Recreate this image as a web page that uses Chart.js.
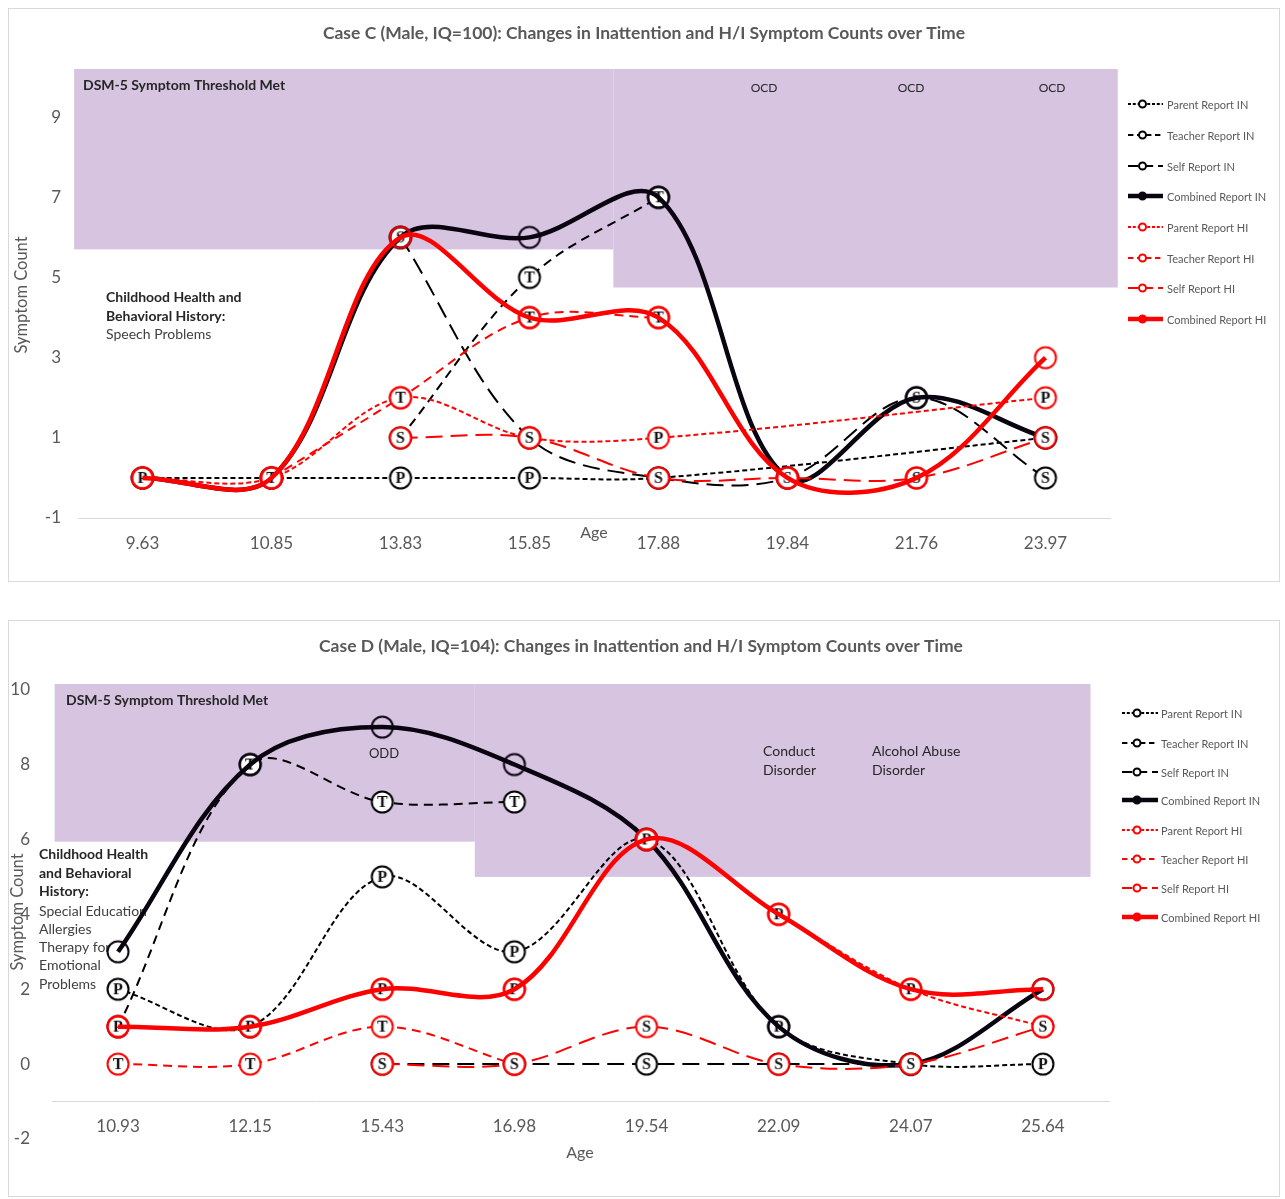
<!DOCTYPE html>
<html>
<head>
<meta charset="utf-8">
<script src="https://cdn.jsdelivr.net/npm/chart.js@4.4.1/dist/chart.umd.min.js"></script>
<style>
  body { margin: 0; background: #fff; }
  .panel { position: absolute; left: 8px; width: 1270px; border: 1px solid #d9d9d9; background: #fff; }
  #panelC { top: 8px; height: 572px; }
  #panelD { top: 620px; height: 575px; }
  canvas { display: block; }
</style>
</head>
<body>
<div class="panel" id="panelC"><canvas id="chartC" width="1270" height="572"></canvas></div>
<div class="panel" id="panelD"><canvas id="chartD" width="1270" height="575"></canvas></div>
<script>
// ---- series names (legend order) ----
const seriesNames = ['Parent Report IN', 'Teacher Report IN', 'Self Report IN', 'Combined Report IN',
                     'Parent Report HI', 'Teacher Report HI', 'Self Report HI', 'Combined Report HI'];
const seriesLetters = ['P', 'T', 'S', '', 'P', 'T', 'S', ''];

// ---- Case C ----
const agesC = ['9.63', '10.85', '13.83', '15.85', '17.88', '19.84', '21.76', '23.97'];
const parentInC   = [0, 0, 0, 0, 0, null, null, 1];
const teacherInC  = [null, null, 1, 5, 7, null, null, null];
const selfInC     = [null, null, 6, 1, 0, 0, 2, 0];
const combinedInC = [0, 0, 6, 6, 7, 0, 2, 1];
const parentHiC   = [0, 0, 2, 1, 1, null, null, 2];
const teacherHiC  = [null, 0, 2, 4, 4, null, null, null];
const selfHiC     = [null, null, 1, 1, 0, 0, 0, 1];
const combinedHiC = [0, 0, 6, 4, 4, 0, 0, 3];
const yTicksC = [-1, 1, 3, 5, 7, 9];

// ---- Case D ----
const agesD = ['10.93', '12.15', '15.43', '16.98', '19.54', '22.09', '24.07', '25.64'];
const parentInD   = [2, 1, 5, 3, 6, 1, 0, 0];
const teacherInD  = [1, 8, 7, 7, null, null, null, null];
const selfInD     = [null, null, 0, 0, 0, 0, 0, null];
const combinedInD = [3, 8, 9, 8, 6, 1, 0, 2];
const parentHiD   = [1, 1, 2, 2, 6, 4, 2, 1];
const teacherHiD  = [0, 0, 1, 0, null, null, null, null];
const selfHiD     = [null, null, 0, 0, 1, 0, 0, 1];
const combinedHiD = [1, 1, 2, 2, 6, 4, 2, 2];
const yTicksD = [-2, 0, 2, 4, 6, 8, 10];

// line looks per series
const seriesStyles = [
  { color: '#000000', width: 2,   dash: [5, 3] },
  { color: '#000000', width: 2,   dash: [9, 6] },
  { color: '#000000', width: 2,   dash: [17, 8] },
  { color: '#0a0410', width: 4.5, dash: [] },
  { color: '#ff0000', width: 2,   dash: [5, 3] },
  { color: '#ff0000', width: 2,   dash: [9, 6] },
  { color: '#ff0000', width: 2,   dash: [17, 8] },
  { color: '#ff0000', width: 4.5, dash: [] }
];

function makeMarker(color, letter) {
  const c = document.createElement('canvas');
  c.width = 26; c.height = 26;
  const g = c.getContext('2d');
  g.beginPath();
  g.arc(13, 13, 10.5, 0, Math.PI * 2);
  if (letter) { g.fillStyle = '#fff'; g.fill(); }
  g.lineWidth = 2;
  g.strokeStyle = color;
  g.stroke();
  if (letter) {
    g.fillStyle = '#111';
    g.font = 'bold 16px "Liberation Serif"';
    g.textAlign = 'center';
    g.textBaseline = 'middle';
    g.fillText(letter, 13, 14);
  }
  return c;
}
const markers = seriesStyles.map((s, i) => makeMarker(s.color, seriesLetters[i]));

// boxes, texts, legend
const decorPlugin = {
  id: 'decor',
  beforeDatasetsDraw(chart, args, opts) {
    const { ctx, chartArea } = chart;
    const x = chart.scales.x, y = chart.scales.y;
    const x0 = x.getPixelForValue(0);
    const step = x.getPixelForValue(1) - x0;
    ctx.save();
    ctx.fillStyle = '#d6c4e1';
    opts.boxes.forEach(b => {
      const left = x0 + b.from * step, right = x0 + b.to * step;
      const top = chartArea.top, bottom = y.getPixelForValue(b.bottom);
      ctx.fillRect(left, top, right - left, bottom - top);
    });
    opts.texts.forEach(t => {
      ctx.font = t.font;
      ctx.fillStyle = t.color;
      ctx.textAlign = t.align || 'left';
      ctx.textBaseline = 'middle';
      if (t.rotate) {
        ctx.save();
        ctx.translate(t.x, t.y);
        ctx.rotate(-Math.PI / 2);
        ctx.fillText(t.text, 0, 0);
        ctx.restore();
      } else {
        ctx.fillText(t.text, t.x, t.y);
      }
    });
    ctx.restore();
  },
  afterDraw(chart, args, opts) {
    const ctx = chart.ctx;
    const lg = opts.legend;
    chart.data.datasets.forEach((ds, i) => {
      const yy = lg.ys[i];
      ctx.save();
      ctx.strokeStyle = ds.borderColor;
      ctx.lineWidth = ds.borderWidth;
      ctx.setLineDash(ds.borderDash.map(v => v * 0.6));
      ctx.beginPath();
      ctx.moveTo(lg.x0, yy);
      ctx.lineTo(lg.x1, yy);
      ctx.stroke();
      ctx.setLineDash([]);
      ctx.beginPath();
      ctx.arc((lg.x0 + lg.x1) / 2 - 3, yy, 3.5, 0, Math.PI * 2);
      ctx.fillStyle = ds.borderWidth > 3 ? ds.borderColor : '#fff';
      ctx.fill();
      ctx.lineWidth = 2;
      ctx.stroke();
      ctx.font = '11px Lato';
      ctx.fillStyle = '#595959';
      ctx.textAlign = 'left';
      ctx.textBaseline = 'middle';
      ctx.fillText(ds.label, lg.tx, yy + 1);
      ctx.restore();
    });
  }
};

const tickFont = { family: 'Lato', size: 17 };
const boldNote = 'bold 14px Lato';
const plainNote = '14px Lato';
const noteColor = '#262626';
const titleFont = 'bold 17.5px Lato';

function makeChart(canvasId, c) {
  const datasets = c.series.map((data, i) => ({
    label: seriesNames[i],
    data: data,
    borderColor: seriesStyles[i].color,
    borderWidth: seriesStyles[i].width,
    borderDash: seriesStyles[i].dash,
    pointStyle: markers[i],
    pointRadius: 11,
    pointHoverRadius: 11,
    tension: 0.35,
    spanGaps: true,
    fill: false,
    order: seriesNames.length - i
  }));
  return new Chart(document.getElementById(canvasId), {
    type: 'line',
    data: { labels: c.labels, datasets: datasets },
    options: {
      responsive: false,
      animation: false,
      layout: { padding: c.padding },
      plugins: { legend: { display: false }, tooltip: { enabled: false }, decor: c.decor },
      scales: {
        x: {
          offset: true,
          position: c.xPos,
          grid: { display: false },
          border: { display: true, color: '#d9d9d9', width: 1 },
          ticks: { font: tickFont, color: '#595959', padding: c.xPad, maxRotation: 0, autoSkip: false },
          afterFit: s => { s.height = c.xHeight; }
        },
        y: {
          min: c.yMin, max: c.yMax,
          grid: { display: false },
          border: { display: false },
          ticks: { font: tickFont, color: '#595959', padding: c.yPad },
          afterBuildTicks: s => { s.ticks = c.yTicks.map(v => ({ value: v })); },
          afterFit: s => { s.width = c.yWidth; }
        }
      }
    },
    plugins: [decorPlugin]
  });
}

makeChart('chartC', {
  labels: agesC,
  series: [parentInC, teacherInC, selfInC, combinedInC, parentHiC, teacherHiC, selfHiC, combinedHiC],
  yMin: -1, yMax: 10.2, yTicks: yTicksC,
  padding: { left: 0, right: 169, top: 60, bottom: 0 },
  xPos: 'bottom', xPad: 7, xHeight: 63, yPad: 9, yWidth: 69,
  decor: {
    boxes: [
      { from: -0.53, to: 3.65, bottom: 5.7 },
      { from: 3.65, to: 7.56, bottom: 4.75 }
    ],
    texts: [
      { text: 'Case C (Male, IQ=100): Changes in Inattention and H/I Symptom Counts over Time', x: 635, y: 24, font: titleFont, color: '#595959', align: 'center' },
      { text: 'DSM-5 Symptom Threshold Met', x: 74, y: 76, font: boldNote, color: noteColor },
      { text: 'OCD', x: 755, y: 79, font: '12px Lato', color: noteColor, align: 'center' },
      { text: 'OCD', x: 902, y: 79, font: '12px Lato', color: noteColor, align: 'center' },
      { text: 'OCD', x: 1043, y: 79, font: '12px Lato', color: noteColor, align: 'center' },
      { text: 'Childhood Health and', x: 97, y: 288, font: boldNote, color: noteColor },
      { text: 'Behavioral History:', x: 97, y: 307, font: boldNote, color: noteColor },
      { text: 'Speech Problems', x: 97, y: 325, font: plainNote, color: '#404040' },
      { text: 'Age', x: 585, y: 524, font: '16px Lato', color: '#595959', align: 'center' },
      { text: 'Symptom Count', x: 13, y: 286, font: '16.5px Lato', color: '#595959', align: 'center', rotate: true }
    ],
    legend: { x0: 1119, x1: 1154, tx: 1158, ys: [95, 126, 157, 187, 218, 249, 279, 310] }
  }
});

makeChart('chartD', {
  labels: agesD,
  series: [parentInD, teacherInD, selfInD, combinedInD, parentHiD, teacherHiD, selfHiD, combinedHiD],
  yMin: -2, yMax: 10.15, yTicks: yTicksD,
  padding: { left: 0, right: 170, top: 63, bottom: 57 },
  xPos: { y: -1 }, xPad: 7, xHeight: 0, yPad: 14, yWidth: 43,
  decor: {
    boxes: [
      { from: -0.48, to: 2.70, bottom: 5.94 },
      { from: 2.70, to: 7.36, bottom: 5.0 }
    ],
    texts: [
      { text: 'Case D (Male, IQ=104): Changes in Inattention and H/I Symptom Counts over Time', x: 632, y: 25, font: titleFont, color: '#595959', align: 'center' },
      { text: 'DSM-5 Symptom Threshold Met', x: 57, y: 79, font: boldNote, color: noteColor },
      { text: 'ODD', x: 375, y: 133, font: '13px Lato', color: noteColor, align: 'center' },
      { text: 'Conduct', x: 754, y: 130, font: plainNote, color: noteColor },
      { text: 'Disorder', x: 754, y: 149, font: plainNote, color: noteColor },
      { text: 'Alcohol Abuse', x: 863, y: 130, font: plainNote, color: noteColor },
      { text: 'Disorder', x: 863, y: 149, font: plainNote, color: noteColor },
      { text: 'Childhood Health', x: 30, y: 233, font: boldNote, color: noteColor },
      { text: 'and Behavioral', x: 30, y: 252, font: boldNote, color: noteColor },
      { text: 'History:', x: 30, y: 270, font: boldNote, color: noteColor },
      { text: 'Special Education', x: 30, y: 290, font: plainNote, color: '#404040' },
      { text: 'Allergies', x: 30, y: 308, font: plainNote, color: '#404040' },
      { text: 'Therapy for', x: 30, y: 326, font: plainNote, color: '#404040' },
      { text: 'Emotional', x: 30, y: 344, font: plainNote, color: '#404040' },
      { text: 'Problems', x: 30, y: 363, font: plainNote, color: '#404040' },
      { text: 'Age', x: 571, y: 532, font: '16px Lato', color: '#595959', align: 'center' },
      { text: 'Symptom Count', x: 9, y: 291, font: '16.5px Lato', color: '#595959', align: 'center', rotate: true }
    ],
    legend: { x0: 1113, x1: 1149, tx: 1152, ys: [92, 122, 151, 179, 209, 238, 267, 296] }
  }
});
</script>
</body>
</html>
